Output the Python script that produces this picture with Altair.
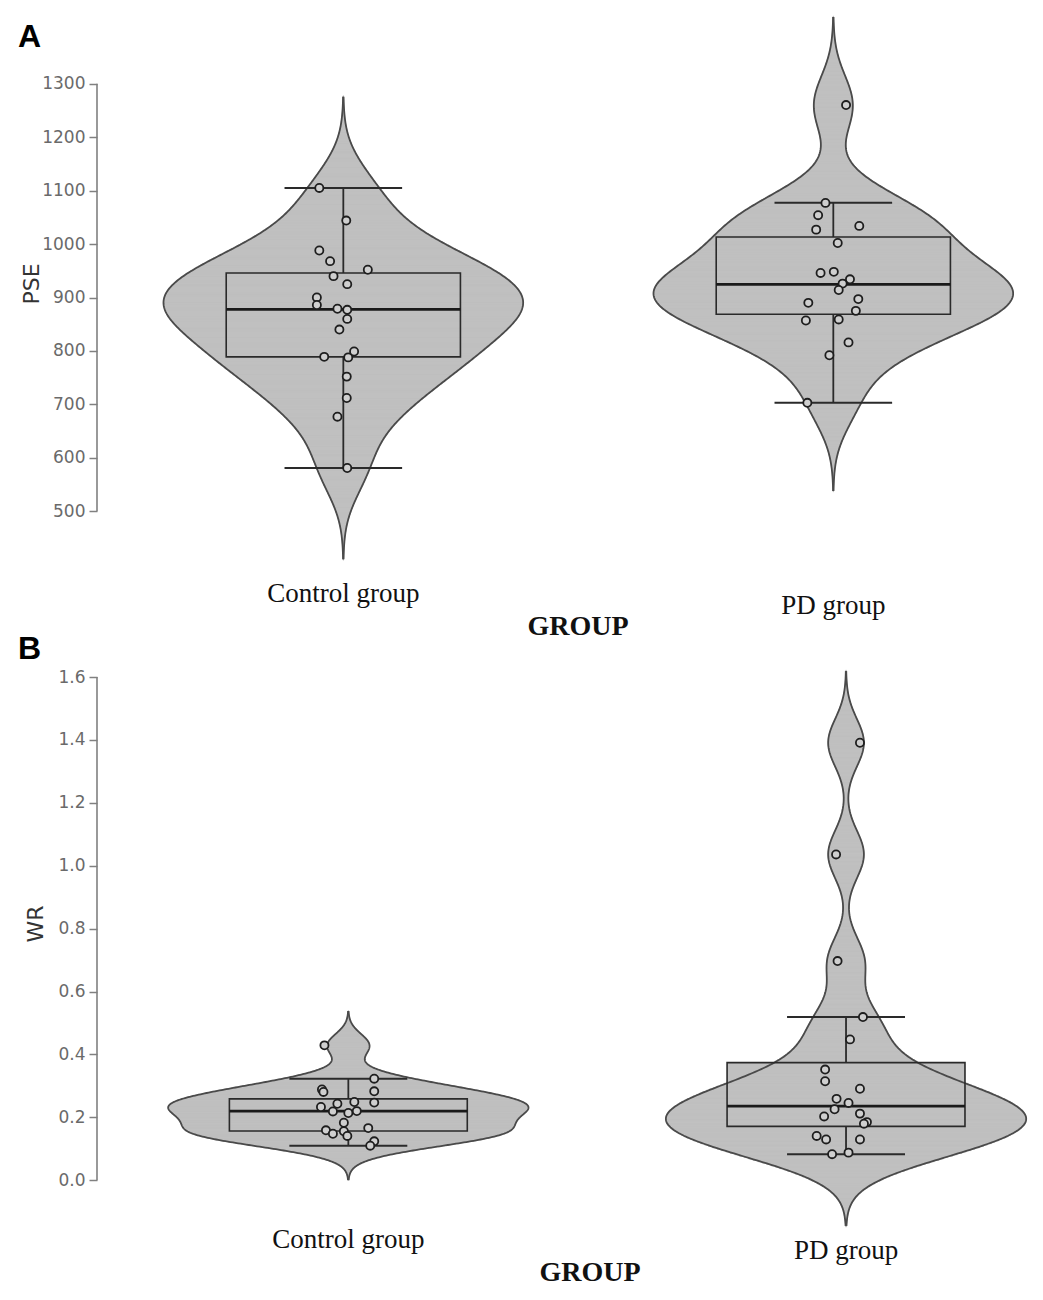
import numpy as np
import pandas as pd
import altair as alt

groups = ["Control group", "PD group"]
positions = [1, 2]

# ---- Panel A: PSE (values and horizontal jitter) ----
pse_control = [1105, 1044, 988, 968, 952, 940, 925, 900, 886, 879, 877, 860, 840,
               789, 788, 799, 752, 712, 677, 581]
pse_control_dx = [-0.049, 0.006, -0.049, -0.027, 0.050, -0.020, 0.008, -0.054, -0.054,
                  -0.012, 0.008, 0.008, -0.008, -0.039, 0.010, 0.022, 0.007, 0.007,
                  -0.012, 0.008]
pse_pd = [1260, 1077, 1054, 1027, 1034, 1002, 946, 948, 934, 926, 914, 890, 897,
          875, 857, 859, 816, 792, 703]
pse_pd_dx = [0.026, -0.016, -0.031, -0.035, 0.053, 0.009, -0.026, 0.001, 0.034, 0.019,
             0.011, -0.051, 0.051, 0.046, -0.056, 0.011, 0.031, -0.008, -0.053]
pse_lo = [581, 703]
pse_q1 = [789, 868.6]
pse_med = [877.7, 924.7]
pse_q3 = [945.8, 1013.2]
pse_hi = [1105, 1077.4]
pse_ticks = [500, 600, 700, 800, 900, 1000, 1100, 1200, 1300]

# ---- Panel B: WR ----
wr_control = [0.429, 0.323, 0.289, 0.281, 0.283, 0.2435, 0.249, 0.247, 0.233, 0.219,
              0.214, 0.220, 0.183, 0.166, 0.159, 0.148, 0.156, 0.141, 0.124, 0.110]
wr_control_dx = [-0.048, 0.052, -0.053, -0.050, 0.052, -0.022, 0.012, 0.052, -0.055,
                 -0.031, 0.000, 0.017, -0.009, 0.040, -0.045, -0.031, -0.009, -0.002,
                 0.052, 0.044]
wr_pd = [1.391, 1.036, 0.697, 0.519, 0.448, 0.352, 0.315, 0.291, 0.259, 0.246, 0.226,
         0.212, 0.203, 0.185, 0.180, 0.141, 0.130, 0.130, 0.083, 0.088]
wr_pd_dx = [0.028, -0.020, -0.017, 0.034, 0.008, -0.042, -0.042, 0.028, -0.019, 0.005,
            -0.023, 0.028, -0.044, 0.042, 0.036, -0.059, -0.040, 0.028, -0.028, 0.005]
wr_lo = [0.110, 0.0826]
wr_q1 = [0.157, 0.1716]
wr_med = [0.220, 0.236]
wr_q3 = [0.259, 0.374]
wr_hi = [0.323, 0.519]
wr_ticks = [0.0, 0.2, 0.4, 0.6, 0.8, 1.0, 1.2, 1.4, 1.6]

VFILL = "#c0c0c0"
VSTROKE = "#4a4a4a"
DARK = "#2a2a2a"
AXC = "#808080"
STEPS = 400


def nrd0(x):
    x = np.asarray(x, dtype=float)
    sd = np.std(x, ddof=1)
    q75, q25 = np.percentile(x, [75, 25])
    lo = min(sd, (q75 - q25) / 1.34)
    return 0.9 * lo * len(x) ** (-0.2)


def panel(vals, dxs, lo, q1, med, q3, hi, ticks, fmt, ydom, xdom, width, height,
          vw, bh, cw, ytitle, ytitle_xy, letters, lab_y, group_xy):
    ys = alt.Scale(domain=ydom, nice=False, zero=False)
    xs = alt.Scale(domain=xdom, nice=False, zero=False)
    yaxis = alt.Axis(values=ticks, format=fmt, domain=False, grid=False, ticks=True,
                     tickSize=8, tickColor=AXC, tickWidth=1.5, labelFont="DejaVu Sans",
                     labelFontSize=17, labelColor="#6a6a6a", labelPadding=4, title=None)

    def Y(f):
        return alt.Y(f, scale=ys, axis=yaxis)

    def X(f):
        return alt.X(f, scale=xs, axis=None)

    rows = []
    for g, p, v, d in zip(groups, positions, vals, dxs):
        for vi, di in zip(v, d):
            rows.append({"group": g, "pos": p, "value": vi, "dx": di})
    pts = pd.DataFrame(rows)
    box = pd.DataFrame({"group": groups, "pos": positions, "lo": lo, "q1": q1,
                        "med": med, "q3": q3, "hi": hi})

    boxbase = alt.Chart(box).transform_calculate(
        bl=f"datum.pos - {bh}", br=f"datum.pos + {bh}",
        cl=f"datum.pos - {cw}", cr=f"datum.pos + {cw}")

    layers = []
    # box fill underneath the violins
    layers.append(boxbase.mark_rect(fill=VFILL, strokeWidth=0).encode(
        x=X("bl:Q"), x2="br:Q", y=Y("q1:Q"), y2="q3:Q"))
    # violins: kernel density of the points, each scaled to the same max width
    outlines = []
    for g, p, v in zip(groups, positions, vals):
        bw = nrd0(v)
        a, b = float(min(v) - 3 * bw), float(max(v) + 3 * bw)
        half = 0.75 * (b - a) / (STEPS - 1)
        dens = (
            alt.Chart(pts).transform_filter(alt.datum.group == g)
            .transform_density("value", as_=["value", "density"], bandwidth=float(bw),
                               extent=[a, b], steps=STEPS)
            .transform_joinaggregate(maxd="max(density)")
            .transform_calculate(
                xl=f"{p} - {vw} * datum.density / datum.maxd",
                xr=f"{p} + {vw} * datum.density / datum.maxd",
                y0=f"datum.value - {half}",
                y1=f"datum.value + {half}")
        )
        layers.append(dens.mark_rect(fill=VFILL, stroke=VFILL, strokeWidth=0.9).encode(
            x=X("xl:Q"), x2="xr:Q", y=Y("y0:Q"), y2="y1:Q"))
        outlines.append(dens.mark_line(color=VSTROKE, strokeWidth=1.8).encode(
            x=X("xl:Q"), y=Y("value:Q"), order="value:Q"))
        outlines.append(dens.mark_line(color=VSTROKE, strokeWidth=1.8).encode(
            x=X("xr:Q"), y=Y("value:Q"), order="value:Q"))
    layers.extend(outlines)
    # box outline, whiskers, caps, median
    layers.append(boxbase.mark_rect(fillOpacity=0, stroke=DARK, strokeWidth=1.6).encode(
        x=X("bl:Q"), x2="br:Q", y=Y("q1:Q"), y2="q3:Q"))
    layers.append(boxbase.mark_rule(color=DARK, strokeWidth=1.8).encode(
        x=X("pos:Q"), y=Y("q3:Q"), y2="hi:Q"))
    layers.append(boxbase.mark_rule(color=DARK, strokeWidth=1.8).encode(
        x=X("pos:Q"), y=Y("lo:Q"), y2="q1:Q"))
    layers.append(boxbase.mark_rule(color=DARK, strokeWidth=2).encode(
        x=X("cl:Q"), x2="cr:Q", y=Y("hi:Q")))
    layers.append(boxbase.mark_rule(color=DARK, strokeWidth=2).encode(
        x=X("cl:Q"), x2="cr:Q", y=Y("lo:Q")))
    layers.append(boxbase.mark_rule(color="#1a1a1a", strokeWidth=2.8).encode(
        x=X("bl:Q"), x2="br:Q", y=Y("med:Q")))
    # jittered points
    layers.append(
        alt.Chart(pts).transform_calculate(xp="datum.pos + datum.dx")
        .mark_circle(fill="#cfcfcf", stroke="#1e1e1e", strokeWidth=1.8, size=66, opacity=1)
        .encode(x=X("xp:Q"), y=Y("value:Q")))
    # y axis line spanning only the tick range
    layers.append(
        alt.Chart(pd.DataFrame({"a": [ticks[0]], "b": [ticks[-1]]}))
        .mark_rule(color=AXC, strokeWidth=1.6)
        .encode(x=alt.value(0), y=Y("a:Q"), y2="b:Q"))
    # axis title
    layers.append(
        alt.Chart(pd.DataFrame({"t": [ytitle]}))
        .mark_text(font="DejaVu Sans", fontSize=22, color="#333333", angle=270,
                   align="center", baseline="middle")
        .encode(x=alt.value(ytitle_xy[0]), y=alt.value(ytitle_xy[1]), text="t:N"))
    # group labels
    gdf = pd.DataFrame({"group": groups, "pos": positions})
    for g, ly in zip(groups, lab_y):
        layers.append(
            alt.Chart(gdf).transform_filter(alt.datum.group == g)
            .mark_text(font="Liberation Serif", fontSize=27, color="#111111",
                       align="center", baseline="alphabetic")
            .encode(x=X("pos:Q"), y=alt.value(ly), text="group:N"))
    layers.append(
        alt.Chart(pd.DataFrame({"t": ["GROUP"]}))
        .mark_text(font="Liberation Serif", fontSize=28, fontWeight="bold",
                   color="#111111", align="center", baseline="alphabetic")
        .encode(x=alt.value(group_xy[0]), y=alt.value(group_xy[1]), text="t:N"))
    # panel letters
    for t, ly in letters:
        layers.append(
            alt.Chart(pd.DataFrame({"t": [t]}))
            .mark_text(font="Liberation Sans", fontSize=32, fontWeight="bold",
                       color="#000000", align="left", baseline="alphabetic")
            .encode(x=alt.value(-79), y=alt.value(ly), text="t:N"))
    return alt.layer(*layers).properties(width=width, height=height)


pA = panel([pse_control, pse_pd], [pse_control_dx, pse_pd_dx],
           pse_lo, pse_q1, pse_med, pse_q3, pse_hi, pse_ticks, "d",
           [218.1, 1428.53], [0.4973, 2.3912], 928, 647,
           0.367, 0.239, 0.12, "PSE", (-65, 269), [("A", 32), ("B", 644)],
           [587, 599], (481, 620))

pB = panel([wr_control, wr_pd], [wr_control_dx, wr_pd_dx],
           wr_lo, wr_q1, wr_med, wr_q3, wr_hi, wr_ticks, ".1f",
           [-0.3328, 1.6477], [0.495, 2.3596], 928, 623,
           0.362, 0.239, 0.1185, "WR", (-61, 262), [],
           [586, 597], (493, 619))

chart = alt.vconcat(pA, pB, spacing=0, bounds="flush").properties(
    padding={"left": 10, "top": 5, "right": 5, "bottom": 5}
).configure_view(stroke=None)

chart.save("out.html", embed_options={"renderer": "svg", "actions": False})
